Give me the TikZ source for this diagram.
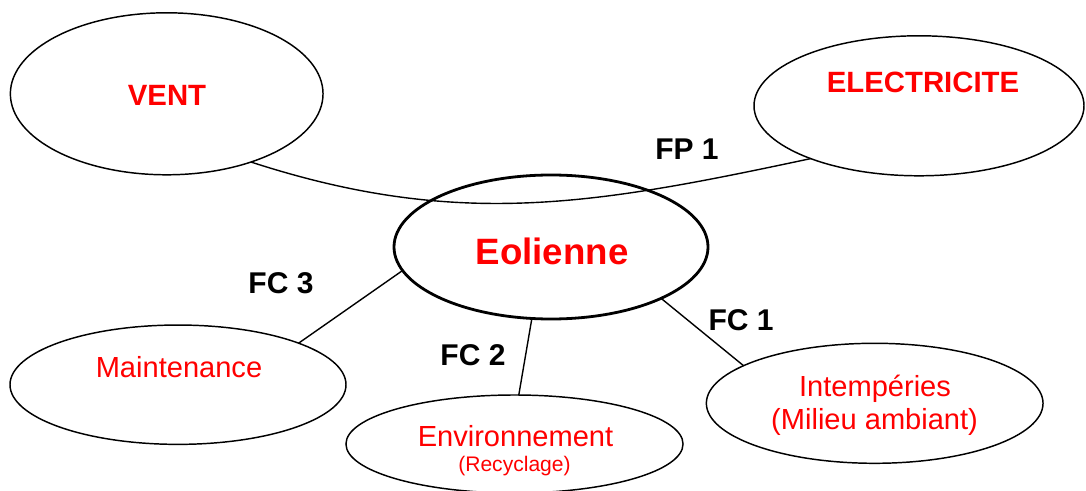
\documentclass[tikz,border=0pt]{standalone}
\usepackage{fontspec}
\setmainfont{Liberation Sans}
\usetikzlibrary{shapes.geometric}
\tikzstyle{bulle}=[draw=black, shape=ellipse, line width=1.1pt, inner sep=0pt, outer sep=0pt]
\tikzstyle{lien}=[line width=1.05pt]
\tikzstyle{titre}=[text=red, font=\fontsize{22}{26}\selectfont\bfseries, anchor=base, inner sep=0pt]
\tikzstyle{texte}=[text=red, font=\fontsize{21.8}{26}\selectfont, anchor=base, inner sep=0pt]
\tikzstyle{fonction}=[font=\fontsize{22.5}{27}\selectfont\bfseries, anchor=base, inner sep=0pt]

\begin{document}
\begin{tikzpicture}[x=0.75pt, y=0.75pt]
            \useasboundingbox (0,0) rectangle (1086,490);
            % les bulles
            \node[bulle, minimum width=234.5pt, minimum height=121.5pt] (vent) at (166.7,396.2) {};
            \node[bulle, minimum width=247.5pt, minimum height=105pt] (elec) at (919,384.2) {};
            \node[bulle, line width=2.1pt, minimum width=235.5pt, minimum height=108pt] (eol) at (551,243) {};
            \node[bulle, minimum width=252pt, minimum height=89.5pt] (maint) at (178,105.3) {};
            \node[bulle, minimum width=252.8pt, minimum height=73.5pt] (env) at (514.5,46) {};
            \node[bulle, minimum width=252.5pt, minimum height=90pt] (intemp) at (874.7,86.7) {};
            % les textes
            \node[titre] (t-vent) at (167,384.5) {VENT};
            \node[titre] (t-elec) at (923,397.7) {ELECTRICITE};
            \node[titre, font=\fontsize{27.5}{32}\selectfont\bfseries] (t-eol) at (552,225) {Eolienne};
            \node[texte] (t-maint) at (179,112.3) {Maintenance};
            \node[texte] (t-env) at (515.5,43.3) {Environnement};
            \node[texte, font=\fontsize{15.8}{19}\selectfont] (t-recy) at (514.5,18.5) {(Recyclage)};
            \node[texte] (t-intemp) at (875,93.3) {Intempéries};
            \node[texte] (t-milieu) at (874.6,61) {(Milieu ambiant)};
            % les fonctions
            \node[fonction] (fp1) at (687,330) {FP 1};
            \node[fonction] (fc1) at (741,160) {FC 1};
            \node[fonction] (fc2) at (473,125) {FC 2};
            \node[fonction] (fc3) at (281,196.7) {FC 3};
            % les liens
            \draw[lien] (vent.-39) to[out=-18, in=192] (elec.206);
            \draw[lien] (eol.189.6) -- (maint.19.6);
            \draw[lien] (eol.255.4) -- (env.85.9);
            \draw[lien] (eol.335.6) -- (intemp.164.2);
\end{tikzpicture}
\end{document}
